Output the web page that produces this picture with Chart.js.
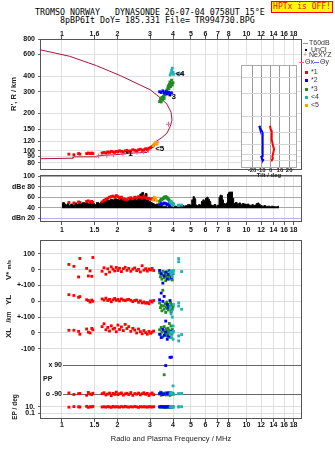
<!DOCTYPE html>
<html>
<head>
<meta charset="utf-8">
<title>Dynasonde ionogram</title>
<script src="https://cdn.jsdelivr.net/npm/chart.js@4.4.1/dist/chart.umd.min.js"></script>
<style>
  html, body { margin: 0; padding: 0; background: #fff; }
  body { position: relative; width: 335px; height: 451px; overflow: hidden; font-family: "Liberation Sans", Arial, sans-serif; color: #111; }
  canvas { position: absolute; left: 0; }
  .head { position: absolute; white-space: pre; font: 8.3px/9px "DejaVu Sans Mono", monospace; color: #000; }
  #hptx { position: absolute; left: 271px; top: 1px; width: 62px; height: 12px; box-sizing: border-box; border: 1px solid #f00; background: #ff0; color: #f00; font: 8px/10px "DejaVu Sans Mono", monospace; text-align: center; }
  .lg { position: absolute; font-size: 7px; line-height: 8px; color: #333; white-space: pre; }
  .sw { position: absolute; }
  .rot { position: absolute; white-space: nowrap; transform: translate(-50%, -50%) rotate(-90deg); font-weight: bold; color: #222; }
</style>
</head>
<body>
<div class="head" style="left:35px;top:8px">TROMSO NORWAY   DYNASONDE 26-07-04 0758UT 15°E</div>
<div class="head" style="left:60px;top:16px">8pBP6It DoY= 185.331 File= TR994730.BPG</div>
<div id="hptx">HPTx is OFF!</div>

<canvas id="cHeight" width="335" height="149" style="top:26px"></canvas>
<canvas id="cAmp" width="335" height="68" style="top:168px"></canvas>
<canvas id="cLower" width="335" height="215" style="top:236px"></canvas>
<canvas id="cTilt" width="80" height="122" style="left:225px;top:60px"></canvas>

<!-- legend -->
<div class="sw" style="left:303px;top:43px;width:5px;height:1px;background:#999"></div>
<div class="lg" style="left:309px;top:39px">T60dB</div>
<div class="sw" style="left:305px;top:49px;width:2px;height:2px;background:#000"></div>
<div class="lg" style="left:311px;top:46px">UnCl</div>
<div class="lg" style="left:303px;top:51px;color:#e8609a">+</div>
<div class="lg" style="left:309px;top:51px">NeXYZ</div>
<div class="sw" style="left:299px;top:62px;width:5px;height:1px;background:#f06080"></div>
<div class="lg" style="left:305px;top:58px">Θx</div>
<div class="sw" style="left:314px;top:62px;width:5px;height:1px;background:#6060ff"></div>
<div class="lg" style="left:320px;top:58px">Θy</div>
<div class="sw" style="left:305px;top:71px;width:3px;height:3px;background:#f00"></div>
<div class="lg" style="left:311px;top:68px">*1</div>
<div class="sw" style="left:305px;top:79px;width:3px;height:3px;background:#00f"></div>
<div class="lg" style="left:311px;top:76px">*2</div>
<div class="sw" style="left:305px;top:88px;width:3px;height:3px;background:#1e8c1e"></div>
<div class="lg" style="left:311px;top:85px">*3</div>
<div class="sw" style="left:305px;top:96px;width:3px;height:3px;background:#1cb4b4"></div>
<div class="lg" style="left:311px;top:93px">&lt;4</div>
<div class="sw" style="left:305px;top:104px;width:3px;height:3px;background:#ffa200"></div>
<div class="lg" style="left:311px;top:101px">&lt;5</div>

<!-- side titles -->
<div class="rot" style="left:13px;top:94px;font-size:7.5px">R', R / km</div>
<div class="rot" style="left:8px;top:270px;font-size:8px">V* <span style="font-size:5.5px">m/s</span></div>
<div class="rot" style="left:8px;top:300px;font-size:8px">YL</div>
<div class="rot" style="left:8px;top:317px;font-size:6.5px">/km</div>
<div class="rot" style="left:8px;top:333px;font-size:8px">XL</div>
<div class="rot" style="left:14px;top:407px;font-size:6.5px">EP / deg</div>

<script>
// frequency axis (MHz)
const freqTicks = [1, 1.5, 2, 3, 4, 5, 6, 7, 8, 10, 12, 14, 16, 18];
const topFreqLabels = ['1', '1.6', '2', '3', '4', '5', '6', '7', '8', '10', '12', '14', '16', '18'];
const bottomFreqLabels = ['1', '1.5', '2', '3', '4', '5', '6', '7', '8', '10', '12', '14', '16', '18'];
const heightTicks = [80, 90, 100, 120, 150, 200, 300, 400, 600, 800];
const dbTicks = [100, 80, 60, 40, 20];
const dbLabels = ['100', 'dBe 80', '60', '40', 'dBn 20'];
const tiltTicks = [-20, -10, 0, 10, 20];
const lowerTicks = [100, 0, -100, -200, -300, -400, -500];
const lowerTickLabels = ['100', '0', '+-100', '0', '+-100', '0', '-100'];
const epTicks = [10, 0.1];
const epTickLabels = ['10.', '0.1'];
const ppTicks = [90, -90];
const ppTickLabels = ['x 90', 'o -90'];

// real height profile (plasma frequency MHz, height km)
const profileFreq = [0.76, 1.10, 1.54, 2.07, 3.01, 3.41, 3.71, 3.90, 3.95, 3.86, 3.71, 3.48, 3.27, 3.14, 2.93, 2.89, 2.43, 2.07, 1.58, 1.54, 1.16, 1.15, 0.76];
const profileHeight = [655, 580, 487, 405, 311, 268, 238, 205, 177, 157, 139, 128, 120, 113, 104, 97, 96, 93.6, 91.5, 89.4, 89.4, 87.2, 86.3];

// NeXYZ points
const nexFreq = [1.58, 1.75, 1.90, 2.14, 2.34, 2.55, 2.77, 2.94, 3.27, 3.78];
const nexHeight = [91, 92, 93, 94.7, 96.3, 97.4, 98.3, 101, 117.5, 164];

// trace *1 (red)
const o1Freq = [1.09, 1.16, 1.23, 1.25, 1.36, 1.39, 1.42, 1.45, 1.47,
  1.65, 1.69, 1.73, 1.77, 1.81, 1.85, 1.89, 1.93, 1.97, 2.01, 2.05, 2.10, 2.15, 2.20, 2.25, 2.30, 2.36, 2.42, 2.48, 2.54, 2.60, 2.66, 2.72, 2.78, 2.84, 2.90, 2.96, 3.02, 3.08, 3.14];
const o1Height = [94, 93, 95, 94, 95, 96, 95, 96, 95,
  96, 97, 96, 98, 97, 99, 98, 97, 99, 98, 100, 99, 98, 100, 101, 99, 100, 102, 101, 100, 102, 103, 101, 102, 104, 103, 105, 106, 108, 111];
const o1Amp = [50, 49, 51, 50, 52, 53, 51, 52, 50,
  51, 54, 56, 58, 60, 61, 62, 60, 63, 61, 59, 60, 57, 56, 55, 58, 59, 57, 60, 59, 61, 60, 58, 62, 59, 57, 58, 56, 57, 55];
const o1Vstar = [33, 21, -46, 71, 8, -40, -8, -42, 77,
  -10, 12, -29, 5, -15, 18, 3, -8, 14, -5, 9, -12, 6, 15, -4, 8, -10, 3, 11, -6, 2, -14, 25, -3, 6, -9, 4, -2, 8, -5];
const o1YL = [42, 37, 25, 30, 10, 5, -5, 8, 0,
  15, 8, 20, 5, 12, -3, 10, 18, 6, 12, 2, 15, 8, 4, 10, 12, 6, -2, 5, 8, -6, 3, -10, -4, -12, -8, -15, 2, -5, 5];
const o1XL = [17, 17, 10, -8, 25, 5, 0, 29, 20,
  40, 58, 20, 35, 12, 45, 25, 30, 8, 50, 22, 38, 15, 54, 28, 40, 10, 29, 18, 0, 25, 8, -5, 15, 2, -8, 10, -2, 5, 12];
const o1PP = [-85, -95, -90, -88, -100, -82, -92, -96, -87,
  -90, -84, -98, -92, -86, -102, -88, -94, -80, -96, -90, -85, -99, -91, -87, -95, -83, -100, -89, -93, -86, -97, -90, -84, -94, -88, -101, -92, -85, -96];
const o1EP = [8, 12, 10, 9, 14, 7, 11, 10, 13,
  9, 11, 8, 12, 10, 7, 13, 9, 11, 10, 8, 12, 9, 14, 10, 8, 11, 9, 13, 10, 7, 12, 9, 11, 10, 8, 12, 10, 9, 11];

// trace *2 (blue)
const b2Freq = [3.38, 3.45, 3.52, 3.58, 3.65, 3.72, 3.78, 3.85, 3.92];
const b2Height = [300, 296, 305, 292, 300, 288, 298, 285, 294];
const b2Amp = [46, 48, 47, 49, 48, 46, 47, 45, 46];
const b2Vstar = [-5, -25, -85, -40, -15, -60, -30, -10, -50];
const b2YL = [10, 52, 0, 31, -125, -20, -40, 5, -60];
const b2XL = [-8, -29, 23, -15, 5, -40, -20, -154, 10];
const b2PP = [-90, -85, -95, -92, 88, -88, -90, -86, 141];
const b2EP = [10, 12, 9, 11, 8, 10, 13, 9, 11];

// trace *3 (green)
const g3Freq = [3.38, 3.42, 3.45, 3.48, 3.52, 3.55, 3.58, 3.62, 3.65, 3.68, 3.70, 3.72, 3.75, 3.77, 3.80, 3.82, 3.85, 3.88, 3.90, 3.93, 3.96, 4.00];
const g3Height = [250, 262, 248, 270, 258, 275, 265, 282, 290, 300, 310, 295, 322, 335, 318, 345, 360, 330, 350, 372, 340, 355];
const g3Amp = [52, 54, 56, 55, 57, 58, 60, 59, 61, 60, 58, 59, 57, 56, 55, 53, 52, 50, 51, 49, 48, 47];
const g3Vstar = [-20, -45, -30, -60, -10, -35, -50, -25, -70, -40, -15, -55, -30, -45, -5, -60, -35, -20, -50, -40, -65, -25];
const g3YL = [-10, -40, -25, -60, 70, -30, -50, -15, -70, -35, -5, -45, -20, -55, -30, -140, -40, -10, -65, -25, -50, -35];
const g3XL = [20, -10, 35, 5, -25, 15, 40, 0, -15, 25, 10, -20, 30, -5, 18, 2, -28, 12, 44, -8, 22, 6];
const g3PP = [-90, -80, -100, -85, -95, -88, 30, -92, -84, -98, -90, -86, -94, -82, -96, -88, -100, -91, -85, -93, -87, -89];
const g3EP = [10, 8, 12, 9, 11, 10, 7, 13, 9, 10, 12, 8, 11, 10, 9, 14, 10, 8, 12, 9, 11, 10];

// trace <4 (cyan)
const c4Freq = [3.86, 3.90, 3.93, 3.96, 4.00, 4.02, 4.29, 4.29, 4.45];
const c4Height = [410, 425, 445, 465, 430, 415, 418, 412, 420];
const c4Amp = [50, 52, 48, 46, 45, 47, 45, 44, 45];
const c4Vstar = [-15, -30, -10, -45, -20, -5, 70, 50, -12];
const c4YL = [-40, -80, -60, -100, -156, -20, -10, -30, -50];
const c4XL = [-10, 5, -30, 0, -40, 10, -19, -50, -10];
const c4PP = [-90, -85, -88, -92, -41, -95, -90, -90, -88];
const c4EP = [10, 9, 11, 10, 12, 8, 10, 10, 11];

// trace <5 (orange)
const o5Freq = [3.12, 3.17, 3.22, 3.27];
const o5Height = [110, 114, 117, 113];
const o5Amp = [55, 60, 58, 53];

// T60dB amplitude
const ampFreq = [1.00, 1.02, 1.04, 1.06, 1.08, 1.10, 1.13, 1.16, 1.19, 1.22, 1.25, 1.28, 1.31, 1.34, 1.37, 1.40, 1.44, 1.48, 1.52, 1.56,
  1.60, 1.64, 1.68, 1.72, 1.76, 1.80, 1.85, 1.90, 1.95, 2.00, 2.05, 2.10, 2.16, 2.22, 2.28, 2.34, 2.40, 2.47, 2.54, 2.61,
  2.68, 2.74, 2.80, 2.86, 2.92, 2.98, 3.05, 3.12, 3.20, 3.28, 3.36, 3.45, 3.54, 3.63, 3.72, 3.82, 3.92, 4.02, 4.13, 4.24,
  4.36, 4.48, 4.60, 4.73, 4.86, 5.00, 5.10, 5.18, 5.26, 5.35, 5.45, 5.55, 5.65, 5.75, 5.85, 5.95, 6.05, 6.15, 6.25, 6.35,
  6.45, 6.60, 6.75, 6.90, 7.05, 7.15, 7.25, 7.35, 7.45, 7.55, 7.70, 7.85, 7.95, 8.05, 8.15, 8.25, 8.35, 8.45, 8.60, 8.80,
  9.00, 9.20, 9.40, 9.60, 9.80, 10.0, 10.2, 10.4, 10.6, 10.8, 11.0, 11.2, 11.4, 11.6, 11.8, 12.0, 12.3, 12.6, 12.9, 13.2,
  13.5, 13.8, 14.1, 14.4, 14.7, 15.0];
const ampDb = [48, 50, 47, 45, 48, 44, 47, 45, 49, 46, 51, 48, 50, 49, 50, 47, 49, 48, 46, 50,
  48, 51, 53, 52, 55, 54, 56, 55, 57, 56, 55, 57, 54, 55, 53, 56, 55, 57, 55, 58,
  66, 69, 63, 67, 55, 52, 50, 48, 46, 47, 44, 45, 42, 43, 41, 43, 42, 41, 43, 42,
  44, 45, 43, 44, 46, 45, 55, 61, 57, 45, 44, 46, 45, 52, 55, 53, 58, 60, 56, 52,
  45, 44, 46, 43, 45, 60, 64, 63, 55, 48, 47, 49, 66, 69, 70, 68, 70, 58, 48, 50,
  47, 49, 46, 48, 47, 46, 47, 45, 44, 46, 44, 45, 48, 49, 46, 44, 43, 44, 42, 43,
  42, 43, 42, 42, 42, 43];

// tilt profiles (deg, km)
const thetaXTilt = [-0.7, 0.1, 1.2, 1.2, 2.9, 3.7, 2.9, 1.9, 2.3, 1.2, 1.5];
const thetaXHeight = [168, 157, 152.6, 131, 115, 110.5, 103.6, 96, 92.6, 90.6, 88.5];
const thetaYTilt = [-12.3, -11.6, -9.7, -8.6, -8.6, -8.6, -10.1, -9.4, -8.0, -9.1];
const thetaYHeight = [168, 161, 154, 147, 131, 97, 96, 93, 91, 88.5];

// trace labels in the height panel
const traceLabels = [
  { text: '*1', f: 2.2, h: 94 },
  { text: '*3', f: 3.77, h: 275 },
  { text: '<4', f: 4.11, h: 416 },
  { text: '<5', f: 3.2, h: 103 },
];

// layout of the lower stacked panel (axis units, 100 per grid step)
const YL_ZERO = -200, XL_ZERO = -400, PP_ZERO = -694, EP_ZERO = -887.5, EP_DECADE = 20.5;
const LOWER_MIN = -943.75, LOWER_MAX = 187.5;
const F_MIN = 0.76, F_MAX = 20;

const RED = '#ff0000', BLUE = '#0000ff', GREEN = '#1e8c1e', CYAN = '#1cb4b4', ORANGE = '#ffa200';
const tickFont = { family: 'Liberation Sans', size: 7, weight: 'bold' };

const pts = (xs, ys) => xs.map((x, i) => ({ x, y: ys[i] }));
const epPos = (e) => EP_ZERO + EP_DECADE * Math.log10(e);

function lowerPoints(f, v, yl, xl, pp, ep) {
  const out = [];
  f.forEach((x, i) => {
    out.push({ x, y: v[i] });
    out.push({ x, y: YL_ZERO + yl[i] });
    out.push({ x, y: XL_ZERO + xl[i] });
    out.push({ x, y: PP_ZERO + pp[i] });
    out.push({ x, y: epPos(ep[i]) });
  });
  return out;
}

const echoSet = (color, data) => ({
  data,
  pointStyle: 'rect',
  pointRadius: 2,
  pointBorderWidth: 0,
  backgroundColor: color,
  borderColor: color,
});

// fixed box sizes, and no extra room for labels that overhang the plot
const fixWidth = (w) => (s) => { s.width = w; s.paddingTop = 0; s.paddingBottom = 0; };
const fixHeight = (h) => (s) => { s.height = h; s.paddingLeft = 0; s.paddingRight = 0; };

function freqAxis(position, labels, boxHeight, tickLength, padding) {
  return {
    type: 'logarithmic',
    position,
    min: F_MIN,
    max: F_MAX,
    afterBuildTicks: (s) => { s.ticks = freqTicks.map((v) => ({ value: v })); },
    afterFit: fixHeight(boxHeight),
    ticks: {
      autoSkip: false, maxRotation: 0, padding, color: '#111', font: tickFont,
      callback: (v, i) => labels[i],
    },
    grid: { color: '#e0e0e0', tickColor: '#555', tickLength },
    border: { display: false },
  };
}

const framePlugin = (color) => ({
  id: 'frame',
  afterDraw(chart) {
    const { left, top, right, bottom } = chart.chartArea;
    const ctx = chart.ctx;
    ctx.save();
    ctx.strokeStyle = color;
    ctx.lineWidth = 1;
    ctx.strokeRect(Math.round(left) + 0.5, Math.round(top) + 0.5,
      Math.round(right - left) - 1, Math.round(bottom - top) - 1);
    ctx.restore();
  },
});

const common = {
  responsive: false,
  animation: false,
  devicePixelRatio: 1,
  plugins: { legend: { display: false }, tooltip: { enabled: false } },
};

// height panel
new Chart(document.getElementById('cHeight'), {
  type: 'scatter',
  data: {
    datasets: [
      echoSet(CYAN, pts(c4Freq, c4Height)),
      echoSet(BLUE, pts(b2Freq, b2Height)),
      echoSet(GREEN, pts(g3Freq, g3Height)),
      echoSet(ORANGE, pts(o5Freq, o5Height)),
      echoSet(RED, pts(o1Freq, o1Height)),
      {
        data: pts(nexFreq, nexHeight), pointStyle: 'cross', pointRadius: 2.5,
        pointBorderWidth: 1, borderColor: '#e8609a', backgroundColor: '#e8609a',
      },
      {
        data: pts(profileFreq, profileHeight), showLine: true, borderColor: '#b0123c',
        borderWidth: 1, pointRadius: 0,
      },
    ],
  },
  options: {
    ...common,
    layout: { padding: { left: 0, right: 33, top: 0, bottom: 0 } },
    scales: {
      x: freqAxis('top', topFreqLabels, 13, 3, -2),
      y: {
        type: 'logarithmic', min: 70, max: 800,
        afterBuildTicks: (s) => { s.ticks = heightTicks.map((v) => ({ value: v })); },
        afterFit: fixWidth(40),
        ticks: { autoSkip: false, padding: 3, color: '#111', font: tickFont, callback: (v) => String(v) },
        grid: { color: '#e0e0e0', tickLength: 2, tickColor: '#666' },
        border: { display: false },
      },
    },
  },
  plugins: [framePlugin('#555'), {
    id: 'traceLabels',
    afterDatasetsDraw(chart) {
      const { ctx, scales: { x, y } } = chart;
      ctx.save();
      ctx.font = 'bold 8px "Liberation Sans"';
      ctx.fillStyle = '#000';
      ctx.textAlign = 'left';
      ctx.textBaseline = 'middle';
      traceLabels.forEach((l) => ctx.fillText(l.text, x.getPixelForValue(l.f), y.getPixelForValue(l.h)));
      ctx.restore();
    },
  }],
});

// amplitude panel
new Chart(document.getElementById('cAmp'), {
  type: 'scatter',
  data: {
    datasets: [
      echoSet(CYAN, pts(c4Freq, c4Amp)),
      echoSet(BLUE, pts(b2Freq, b2Amp)),
      echoSet(GREEN, pts(g3Freq, g3Amp)),
      echoSet(ORANGE, pts(o5Freq, o5Amp)),
      echoSet(RED, pts(o1Freq, o1Amp)),
      {
        type: 'line', data: pts(ampFreq, ampDb), borderColor: '#000', backgroundColor: '#000',
        borderWidth: 1, pointRadius: 0, stepped: 'middle', fill: { value: 39 },
      },
    ],
  },
  options: {
    ...common,
    layout: { padding: { left: 0, right: 33, top: 7, bottom: 0 } },
    scales: {
      x: freqAxis('bottom', bottomFreqLabels, 14, 3, 1),
      y: {
        type: 'linear', min: 13, max: 102,
        afterBuildTicks: (s) => { s.ticks = dbTicks.map((v) => ({ value: v })); },
        afterFit: fixWidth(40),
        ticks: { autoSkip: false, padding: 3, color: '#111', font: tickFont, callback: (v, i) => dbLabels[i] },
        grid: {
          color: (c) => (c.tick && c.tick.value === 20 ? '#b4b4f0' : '#a8a8a8'),
          tickLength: 2, tickColor: '#666',
        },
        border: { display: false },
      },
    },
  },
  plugins: [framePlugin('#555')],
});

// V*, YL, XL, PP, EP panel
const lowerTickMap = new Map();
lowerTicks.forEach((v, i) => lowerTickMap.set(v, lowerTickLabels[i]));
epTicks.forEach((e, i) => lowerTickMap.set(epPos(e), epTickLabels[i]));

new Chart(document.getElementById('cLower'), {
  type: 'scatter',
  data: {
    datasets: [
      echoSet(CYAN, lowerPoints(c4Freq, c4Vstar, c4YL, c4XL, c4PP, c4EP)),
      echoSet(BLUE, lowerPoints(b2Freq, b2Vstar, b2YL, b2XL, b2PP, b2EP)),
      echoSet(GREEN, lowerPoints(g3Freq, g3Vstar, g3YL, g3XL, g3PP, g3EP)),
      echoSet(RED, lowerPoints(o1Freq, o1Vstar, o1YL, o1XL, o1PP, o1EP)),
    ],
  },
  options: {
    ...common,
    layout: { padding: { left: 0, right: 33, top: 2, bottom: 0 } },
    scales: {
      x: {
        ...freqAxis('bottom', bottomFreqLabels, 32, 3, -1),
        title: {
          display: true, text: 'Radio and Plasma Frequency / MHz', color: '#222',
          font: { family: 'Liberation Sans', size: 7.5 }, padding: { top: 0, bottom: 7.5 },
        },
      },
      y: {
        type: 'linear', min: LOWER_MIN, max: LOWER_MAX,
        afterBuildTicks: (s) => { s.ticks = [...lowerTickMap.keys()].sort((a, b) => a - b).map((v) => ({ value: v })); },
        afterFit: fixWidth(40),
        ticks: { autoSkip: false, padding: 3, color: '#111', font: tickFont, callback: (v) => lowerTickMap.get(v) },
        grid: { color: '#dcdcdc', tickLength: 2, tickColor: '#666' },
        border: { display: false },
      },
    },
  },
  plugins: [framePlugin('#555'), {
    id: 'ppMarks',
    beforeDatasetsDraw(chart) {
      const { ctx, chartArea, scales: { y } } = chart;
      ctx.save();
      ctx.font = 'bold 7px "Liberation Sans"';
      ctx.fillStyle = '#111';
      ctx.strokeStyle = '#666';
      ctx.lineWidth = 1;
      ctx.textBaseline = 'middle';
      ppTicks.forEach((p, i) => {
        const py = Math.round(y.getPixelForValue(PP_ZERO + p)) + 0.5;
        ctx.beginPath();
        ctx.moveTo(chartArea.left + 23, py);
        ctx.lineTo(chartArea.right, py);
        ctx.stroke();
        ctx.textAlign = 'right';
        ctx.fillText(ppTickLabels[i], chartArea.left + 22, py);
      });
      ctx.textAlign = 'left';
      ctx.fillText('PP', chartArea.left + 3, y.getPixelForValue(PP_ZERO));
      ctx.restore();
    },
  }],
});

// tilt inset
new Chart(document.getElementById('cTilt'), {
  type: 'scatter',
  data: {
    datasets: [
      { data: pts(thetaXTilt, thetaXHeight), showLine: true, borderColor: RED, borderWidth: 2, pointRadius: 0 },
      { data: pts(thetaYTilt, thetaYHeight), showLine: true, borderColor: BLUE, borderWidth: 2, pointRadius: 0 },
    ],
  },
  options: {
    ...common,
    layout: { padding: { left: 0, right: 8, top: 5, bottom: 0 } },
    scales: {
      x: {
        type: 'linear', min: -32, max: 28.5,
        afterBuildTicks: (s) => { s.ticks = tiltTicks.map((v) => ({ value: v })); },
        afterFit: fixHeight(14.5),
        ticks: { autoSkip: false, maxRotation: 0, padding: -1, color: '#222', font: { family: 'Liberation Sans', size: 6, weight: 'bold' } },
        grid: { color: '#9a9a9a', drawTicks: false },
        border: { display: false },
        title: {
          display: true, text: 'Tilt / deg', color: '#222',
          font: { family: 'Liberation Sans', size: 6, weight: 'bold' }, padding: { top: 0, bottom: 3 },
        },
      },
      y: {
        type: 'logarithmic', min: 79.3, max: 502,
        afterBuildTicks: (s) => { s.ticks = heightTicks.filter((v) => v > 79.3 && v < 502).map((v) => ({ value: v })); },
        afterFit: fixWidth(16),
        ticks: { display: false },
        grid: { color: '#d4d4d4', drawTicks: false },
        border: { display: false },
      },
    },
  },
  plugins: [{
    id: 'insetBg',
    beforeDraw(chart) {
      const { left, top, right, bottom } = chart.chartArea;
      chart.ctx.save();
      chart.ctx.fillStyle = '#fff';
      chart.ctx.fillRect(left, top, right - left, bottom - top);
      chart.ctx.restore();
    },
  }, framePlugin('#aaa')],
});
</script>
</body>
</html>
